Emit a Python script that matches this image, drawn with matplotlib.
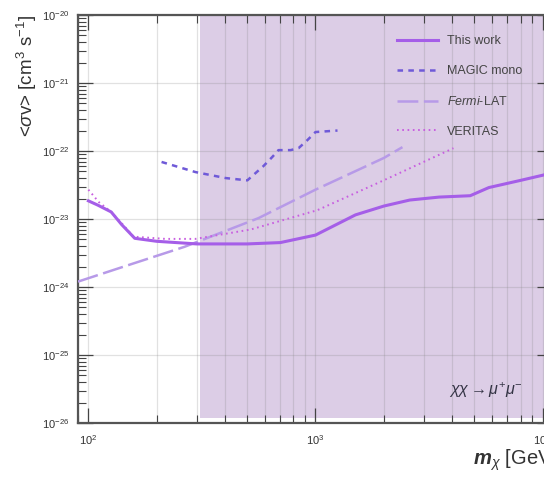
import numpy as np
import matplotlib
matplotlib.use("Agg")
import matplotlib.pyplot as plt
from matplotlib.ticker import LogLocator, NullFormatter

plt.rcParams['font.family'] = ['Liberation Sans', 'DejaVu Sans']
plt.rcParams['mathtext.fontset'] = 'custom'
plt.rcParams['mathtext.rm'] = 'Liberation Sans'
plt.rcParams['mathtext.it'] = 'Liberation Sans:italic'
plt.rcParams['mathtext.bf'] = 'Liberation Sans:bold'
plt.rcParams['mathtext.bfit'] = 'Liberation Sans:bold:italic'
plt.rcParams['lines.scale_dashes'] = False

# upper limits on <sigma v> for chi chi -> mu+ mu-  (mass in GeV, cm^3 s^-1)
this_work_m = [100, 110, 126, 140, 160, 200, 300, 500, 700, 1000, 1500, 2000,
               2600, 3500, 4800, 5800, 8000, 10000, 11000]
this_work_sv = [1.85e-23, 1.6e-23, 1.27e-23, 8.3e-24, 5.2e-24, 4.7e-24, 4.3e-24,
                4.3e-24, 4.5e-24, 5.8e-24, 1.15e-23, 1.55e-23, 1.9e-23, 2.1e-23,
                2.2e-23, 2.9e-23, 3.7e-23, 4.4e-23, 4.8e-23]

magic_m = [210, 296, 402, 501, 590, 646, 687, 777, 842, 922, 1000, 1250]
magic_sv = [6.9e-23, 4.9e-23, 4.0e-23, 3.7e-23, 6.0e-23, 8.2e-23, 1.03e-22,
            1.03e-22, 1.1e-22, 1.45e-22, 1.9e-22, 2.0e-22]

fermi_m = [90, 150, 265, 561, 1000, 2000, 2415]
fermi_sv = [1.2e-24, 2.1e-24, 3.9e-24, 1.03e-23, 2.7e-23, 7.9e-23, 1.14e-22]

veritas_m = [100, 111, 126, 140, 158, 218, 296, 518, 1020, 1995, 4050]
veritas_sv = [2.7e-23, 1.78e-23, 1.27e-23, 8.7e-24, 5.5e-24, 5.1e-24, 5.1e-24,
              7.0e-24, 1.35e-23, 3.7e-23, 1.1e-22]

shade_from = 310

fig = plt.figure(figsize=(5.44, 4.78), dpi=100)
ax = fig.add_axes([78 / 544, 55 / 478, 474 / 544, 408 / 478])

ax.set_xscale('log')
ax.set_yscale('log')
ax.set_xlim(90, 11000)
ax.set_ylim(1e-26, 1e-20)

ax.axvspan(shade_from, 20000, ymin=0.012, ymax=1, color='#dccde6', lw=0, zorder=0.2)
ax.set_axisbelow(True)

ax.plot(this_work_m, this_work_sv, color='#a55ee8', lw=2.2, label='This work', zorder=4)
ax.plot(magic_m, magic_sv, color='#6f5ad8', lw=1.8, dashes=(4.0, 3.8), label='MAGIC mono', zorder=3)
ax.plot(fermi_m, fermi_sv, color='#b79ae8', lw=1.8, dashes=(15, 4), label=r'$\mathit{Fermi}$-LAT', zorder=3)
ax.plot(veritas_m, veritas_sv, color='#c85ee0', lw=1.4, dashes=(1.2, 2.6), label='VERITAS', zorder=3)

# ticks and grid
ax.xaxis.set_major_locator(LogLocator(base=10, numticks=10))
ax.xaxis.set_minor_locator(LogLocator(base=10, subs=np.arange(2, 10), numticks=20))
ax.yaxis.set_major_locator(LogLocator(base=10, numticks=10))
ax.yaxis.set_minor_locator(LogLocator(base=10, subs=np.arange(2, 10), numticks=20))
ax.xaxis.set_minor_formatter(NullFormatter())
ax.yaxis.set_minor_formatter(NullFormatter())
ax.tick_params(which='both', direction='in', top=True, right=True, color='#444444',
               labelcolor='#333333', labelsize=8)
ax.tick_params(which='major', length=11, width=0.9)
ax.tick_params(which='minor', length=5.5, width=0.8)
ax.tick_params(axis='y', pad=6)
ax.tick_params(axis='x', pad=7)
ax.grid(which='major', axis='both', color='#888888', alpha=0.25, lw=0.9)
ax.grid(which='minor', axis='x', color='#888888', alpha=0.25, lw=0.9)

for s in ax.spines.values():
    s.set_color('#555555')
    s.set_linewidth(1.6)

ax.set_ylabel(r'<$\sigma$v> [cm$^{3}$ s$^{-1}$]', fontsize=13.5, color='#333333', loc='top')
ax.yaxis.set_label_coords(-0.083, 1.0)
ax.set_xlabel(r'$\mathbfit{m}_{\chi}$ [GeV]', fontsize=14.5, color='#333333', loc='right')
ax.xaxis.set_label_coords(1.01, -0.06)

ax.text(0.782, 0.08, r'$\chi\chi\rightarrow\mu^{+}\mu^{-}$', transform=ax.transAxes,
        fontsize=11.5, color='#333344', va='center')

leg = ax.legend(loc='upper left', bbox_to_anchor=(0.673, 0.95), frameon=False,
                fontsize=9, handlelength=3.3, handletextpad=0.7, labelspacing=1.42,
                borderpad=0, borderaxespad=0)
for t in leg.get_texts():
    t.set_color('#444444')

fig.savefig('out.png', dpi=100)
